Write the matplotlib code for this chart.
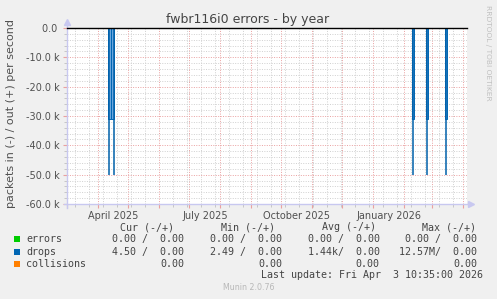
import matplotlib
matplotlib.use("Agg")
import matplotlib.pyplot as plt
import matplotlib.dates as mdates
from matplotlib.patches import Rectangle
from datetime import datetime, timedelta

# ---------------- data ----------------
spike_dates = ["2025-04-11 18:00", "2025-04-16 10:00", "2026-02-10 00:00",
               "2026-02-24 00:00", "2026-03-14 14:00"]
spike_peak = [-50000, -50000, -50000, -50000, -50000]
spike_shoulder = [-31000, -31000, -31000, -31000, -31000]
spike_width_days = [2.7, 2.7, 2.0, 2.2, 1.8]
spike_offset_days = [0.6, -0.9, 0.0, 0.0, 0.0]

month_labels = ["April 2025", "July 2025", "October 2025", "January 2026"]
month_label_dates = ["2025-04-16", "2025-07-16 12:00", "2025-10-16 12:00", "2026-01-16 12:00"]
ytick_values = [0, -10000, -20000, -30000, -40000, -50000, -60000]
ytick_labels = ["0.0 ", "-10.0 k", "-20.0 k", "-30.0 k", "-40.0 k", "-50.0 k", "-60.0 k"]

legend_names = ["errors", "drops", "collisions"]
legend_colors = ["#00CC00", "#0066B3", "#FF8000"]
col_headers = ["Cur (-/+)", "Min (-/+)", "Avg (-/+)", "Max (-/+)"]
cur_vals = ["0.00 /  0.00", "4.50 /  0.00", "0.00"]
min_vals = ["0.00 /  0.00", "2.49 /  0.00", "0.00"]
avg_vals = ["0.00 /  0.00", "1.44k/  0.00", "0.00"]
max_vals = ["0.00 /  0.00", "12.57M/  0.00", "0.00"]
last_update = "Last update: Fri Apr  3 10:35:00 2026"

# ---------------- figure ----------------
W, H = 497, 299
fig = plt.figure(figsize=(W / 100, H / 100), dpi=100, facecolor="#F0F0F0")
L, R, T, B = 67, 467, 28, 204
ax = fig.add_axes([L / W, 1 - B / H, (R - L) / W, (B - T) / H])
ax.set_facecolor("white")

def fx(px):
    return px / W

def fy(py):
    return 1 - py / H

x0 = mdates.date2num(datetime(2025, 4, 1)) - 31.3
ax.set_xlim(x0, x0 + 400)
ax.set_ylim(-60000, 0)

# grid
month_starts = []
d = datetime(2025, 3, 1)
while d < datetime(2026, 5, 1):
    month_starts.append(mdates.date2num(d))
    d = (d.replace(day=28) + timedelta(days=4)).replace(day=1)
biweek = []
d = datetime(2025, 2, 23)
while d < datetime(2026, 5, 1):
    biweek.append(mdates.date2num(d))
    d += timedelta(days=14)
month_starts = [m for m in month_starts if x0 <= m <= x0 + 400]
biweek = [b for b in biweek if x0 <= b <= x0 + 400]

ax.set_xticks(month_starts)
ax.set_xticks(biweek, minor=True)
ax.set_xticklabels([])
ax.set_yticks(ytick_values)
ax.set_yticklabels(ytick_labels, fontsize=7, color="#505050")
ax.set_yticks(range(-60000, 1, 2000), minor=True)

dot = (0, (1, 1.5))
ax.grid(which="minor", color="#D0D0D0", linestyle=dot, linewidth=0.7)
ax.grid(which="major", color="#EAA0A0", linestyle=dot, linewidth=0.7)
ax.tick_params(which="major", length=3, color="#EAA0A0", pad=2)
ax.tick_params(which="minor", length=2, color="#C0C0C0")
for s in ax.spines.values():
    s.set_visible(False)

# axis lines and arrows
axis_col = "#C8C8F0"
ax.plot([0, 0], [-0.02, 1.035], transform=ax.transAxes, color=axis_col, lw=1, clip_on=False)
ax.plot([-0.008, 1.01], [0, 0], transform=ax.transAxes, color=axis_col, lw=1, clip_on=False)
ax.plot([0], [1.035], transform=ax.transAxes, marker="^", ms=4, color=axis_col, clip_on=False)
ax.plot([1.01], [0], transform=ax.transAxes, marker=">", ms=4, color=axis_col, clip_on=False)

# series
sd = [mdates.date2num(datetime.strptime(s, "%Y-%m-%d %H:%M")) for s in spike_dates]
band_x = [s + o for s, o in zip(sd, spike_offset_days)]
ax.bar(band_x, spike_shoulder, width=spike_width_days, color="#6AA6DE",
       edgecolor="#0066B3", linewidth=0.7, zorder=3)
ax.vlines(sd, 0, spike_peak, color="#0060AA", lw=1.1, zorder=4)
ax.axhline(0, color="black", lw=1.0, zorder=5, clip_on=False)

# month labels
for lab, dstr in zip(month_labels, month_label_dates):
    fmt = "%Y-%m-%d %H:%M" if " " in dstr else "%Y-%m-%d"
    xd = mdates.date2num(datetime.strptime(dstr, fmt))
    ax.text(xd, -0.04, lab, transform=ax.get_xaxis_transform(), ha="center", va="top",
            fontsize=7, color="#505050")

# title, labels
fig.text(fx(248), fy(19), "fwbr116i0 errors - by year", ha="center", va="center",
         fontsize=9, color="#444444")
fig.text(fx(11), fy(113), "packets in (-) / out (+) per second", rotation=90,
         ha="center", va="center", fontsize=8, color="#505050")
fig.text(fx(488), fy(5), "RRDTOOL / TOBI OETIKER", rotation=270, ha="center", va="top",
         fontsize=5.4, color="#C0C0C0")
fig.text(fx(249), fy(288), "Munin 2.0.76", ha="center", va="center", fontsize=5.7,
         color="#B8B8B8")

# legend
mono = "DejaVu Sans Mono"
fs = 7.2
tcol = "#444444"
hx = [120, 221, 322, 421.7]
for x, h in zip(hx, col_headers):
    fig.text(fx(x), fy(227), h, ha="left", va="center", family=mono, fontsize=fs, color=tcol)
rows_y = [239.3, 251.7, 263.7]
col_ends = [184, 282, 379.5, 477]
for i, (name, c, y) in enumerate(zip(legend_names, legend_colors, rows_y)):
    fig.add_artist(Rectangle((fx(14), fy(y + 3)), 6 / W, 6 / H, transform=fig.transFigure,
                             facecolor=c, edgecolor="none"))
    fig.text(fx(26), fy(y), name, ha="left", va="center", family=mono, fontsize=fs, color=tcol)
    for xe, vals in zip(col_ends, [cur_vals, min_vals, avg_vals, max_vals]):
        fig.text(fx(xe), fy(y), vals[i], ha="right", va="center", family=mono,
                 fontsize=fs, color=tcol)
fig.text(fx(483), fy(275), last_update, ha="right", va="center", family=mono,
         fontsize=fs, color=tcol)

fig.savefig("out.png", dpi=100, facecolor=fig.get_facecolor())
